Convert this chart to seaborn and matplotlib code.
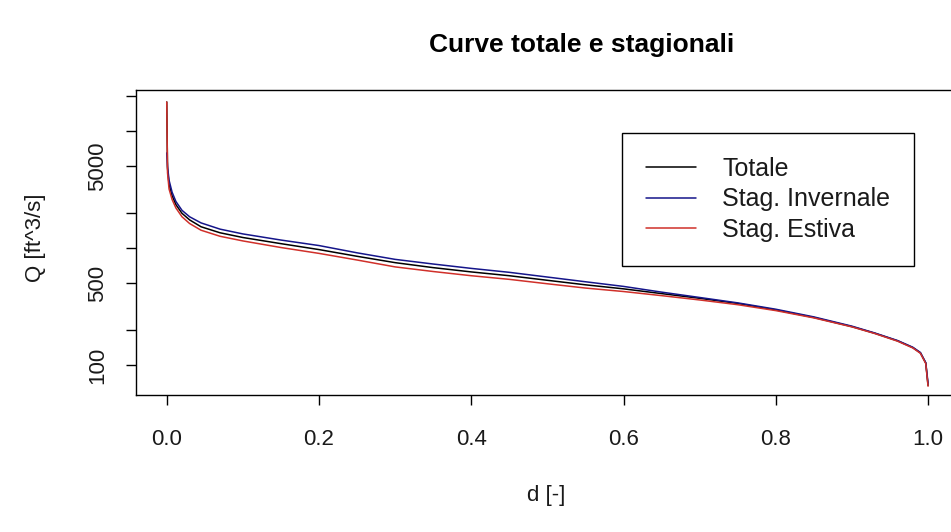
import numpy as np
import pandas as pd
import matplotlib
matplotlib.use("Agg")
import matplotlib.pyplot as plt
from matplotlib.lines import Line2D
import seaborn as sns

# ---- data ----
d_vals = [0.0, 0.001, 0.003, 0.007, 0.012, 0.02, 0.03, 0.045, 0.07, 0.1,
          0.15, 0.2, 0.25, 0.3, 0.35, 0.4, 0.45, 0.5, 0.55, 0.6,
          0.65, 0.7, 0.75, 0.8, 0.85, 0.9, 0.93, 0.96, 0.98, 0.99,
          0.997, 1.0]
q_totale = [17700, 4800, 3500, 2800, 2350, 1980, 1740, 1520, 1350, 1230,
            1090, 970, 850, 750, 680, 625, 580, 530, 485, 448,
            408, 372, 336, 296, 255, 213, 187, 161, 141, 127,
            104, 67]
q_invernale = [6500, 5000, 3800, 3000, 2500, 2100, 1850, 1640, 1450, 1320,
               1170, 1050, 910, 800, 730, 670, 620, 565, 515, 470,
               420, 378, 340, 300, 258, 215, 188, 162, 142, 128,
               105, 70]
q_estiva = [17700, 4400, 3200, 2600, 2200, 1850, 1620, 1420, 1260, 1150,
            1010, 900, 790, 690, 630, 580, 540, 495, 455, 425,
            392, 360, 328, 292, 253, 212, 186, 160, 140, 126,
            103, 66]

series_names = ["Totale", "Stag. Invernale", "Stag. Estiva"]
series_colors = ["#000000", "#15158a", "#d0302a"]

x_ticks = [0.0, 0.2, 0.4, 0.6, 0.8, 1.0]
x_tick_labels = ["0.0", "0.2", "0.4", "0.6", "0.8", "1.0"]
y_ticks = [100, 200, 500, 1000, 2000, 5000, 10000, 20000]
y_tick_labels = ["100", "", "500", "", "", "5000", "", ""]

title = "Curve totale e stagionali"
x_label = "d [-]"
y_label = "Q [ft^3/s]"

# ---- build table ----
frames = []
for name, q in zip(series_names, [q_totale, q_invernale, q_estiva]):
    frames.append(pd.DataFrame({"d": d_vals, "Q": q, "serie": name}))
df = pd.concat(frames, ignore_index=True)

sns.set_theme(style="white")
plt.rcParams["font.family"] = ["Liberation Sans", "DejaVu Sans"]

W, H = 951, 532
fig = plt.figure(figsize=(W / 100, H / 100), dpi=100)
ax = fig.add_axes([136.3 / W, 1 - 395 / H, (958.5 - 136.3) / W, (395 - 90) / H])

sns.lineplot(data=df, x="d", y="Q", hue="serie", hue_order=series_names,
             palette=dict(zip(series_names, series_colors)),
             sort=False, estimator=None, linewidth=1.1, legend=False, ax=ax)

ax.set_yscale("log")
ax.set_xlim(-0.04, 1.04)
ax.set_ylim(55.5, 22400)
ax.set_xticks(x_ticks)
ax.set_xticklabels(x_tick_labels)
ax.set_yticks(y_ticks)
ax.set_yticklabels(y_tick_labels, rotation=90, va="center")
ax.minorticks_off()
ax.set_xlabel("")
ax.set_ylabel("")

for s in ax.spines.values():
    s.set_color("black")
    s.set_linewidth(1.0)

ax.tick_params(axis="both", which="major", direction="out", length=7.5,
               width=1.0, color="black", labelsize=16, labelcolor="#1a1a1a",
               bottom=True, left=True)
ax.tick_params(axis="x", pad=17)
ax.tick_params(axis="y", pad=13)

fig.text(582 / W, 1 - 45 / H, title, ha="center", va="center",
         fontsize=19, fontweight="bold", color="black")
fig.text(546 / W, 1 - 495 / H, x_label, ha="center", va="center",
         fontsize=16, color="#1a1a1a")
fig.text(35 / W, 1 - 238 / H, y_label, ha="center", va="center",
         rotation=90, fontsize=16, color="#1a1a1a")

handles = [Line2D([0], [0], color=c, lw=1.1) for c in series_colors]
leg = ax.legend(handles, series_names, loc="upper left",
                bbox_to_anchor=(0.591, 0.859), frameon=True, fancybox=False,
                fontsize=18, handlelength=2.0, handletextpad=1.05,
                borderpad=0.95, labelspacing=0.26, borderaxespad=0)
leg.get_frame().set_edgecolor("black")
leg.get_frame().set_linewidth(1.0)
leg.get_frame().set_facecolor("white")
leg.get_frame().set_alpha(1.0)
for t in leg.get_texts():
    t.set_color("#1a1a1a")

fig.savefig("out.png", dpi=100, facecolor="white")
